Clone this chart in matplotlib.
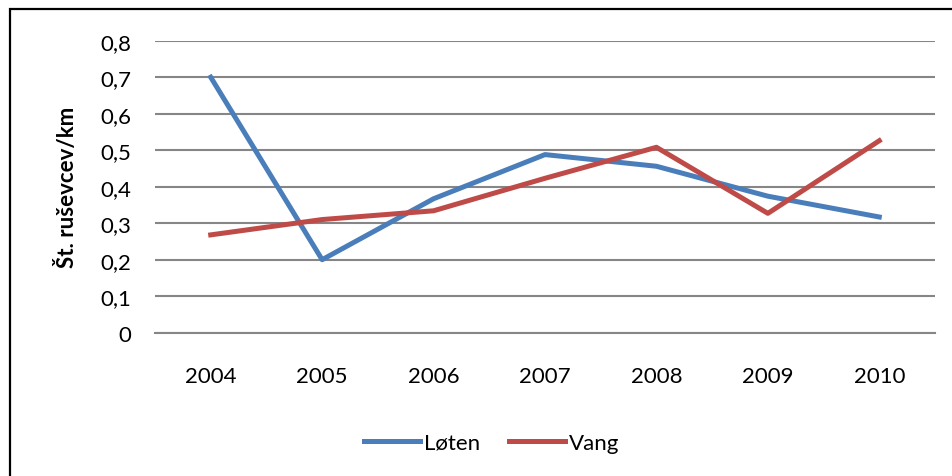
import matplotlib
matplotlib.use("Agg")
import matplotlib.pyplot as plt
from matplotlib.patches import Rectangle

years = ["2004", "2005", "2006", "2007", "2008", "2009", "2010"]
loten = [0.70, 0.20, 0.367, 0.488, 0.456, 0.374, 0.317]
vang = [0.268, 0.310, 0.334, 0.423, 0.508, 0.327, 0.526]
yticks = [0, 0.1, 0.2, 0.3, 0.4, 0.5, 0.6, 0.7, 0.8]
ytick_labels = ["0", "0,1", "0,2", "0,3", "0,4", "0,5", "0,6", "0,7", "0,8"]

BLUE = "#4A7EBB"
RED = "#BE4B48"
GRID = "#868686"

plt.rcParams.update({
    "font.family": ["Lato", "DejaVu Sans"],
    "font.size": 16,
    "text.color": "black",
})

W, H = 953, 477
fig = plt.figure(figsize=(W / 100, H / 100), dpi=100)

# outer chart frame (left and top edges visible)
fig.patches.append(Rectangle((10 / W, -0.05), 1.2, 1 - 10 / H + 0.05,
                             transform=fig.transFigure, fill=False,
                             edgecolor="black", linewidth=1.6))

ax = fig.add_axes([155 / W, 1 - 333.7 / H, (935 - 155) / W, (333.7 - 41.7) / H])
x = range(len(years))
ax.plot(x, loten, color=BLUE, linewidth=3.6, label="Løten", zorder=3)
ax.plot(x, vang, color=RED, linewidth=3.6, label="Vang", zorder=3)

ax.set_xlim(-0.5, len(years) - 0.5)
ax.set_ylim(0, 0.8)
ax.set_yticks(yticks)
ax.set_yticklabels(ytick_labels)
ax.set_xticks(list(x))
ax.set_xticklabels(years)
ax.yaxis.grid(True, color=GRID, linewidth=1.5)
ax.set_axisbelow(True)
for s in ["top", "right", "left"]:
    ax.spines[s].set_visible(False)
ax.spines["bottom"].set_color(GRID)
ax.spines["bottom"].set_linewidth(1.5)
ax.tick_params(axis="both", length=0, labelsize=16)
ax.tick_params(axis="y", pad=17)
ax.tick_params(axis="x", pad=24)

ax.set_ylabel("Št. ruševcev/km", fontsize=16, fontweight="bold")
ax.yaxis.set_label_coords((78 - 155) / 780, 0.5)

fig.legend(loc="center", bbox_to_anchor=(492 / W, 1 - 444 / H), ncol=2,
           frameon=False, fontsize=16, handlelength=2.5, handletextpad=0.2,
           columnspacing=1.3)

fig.savefig("out.png", dpi=100, facecolor="white")
